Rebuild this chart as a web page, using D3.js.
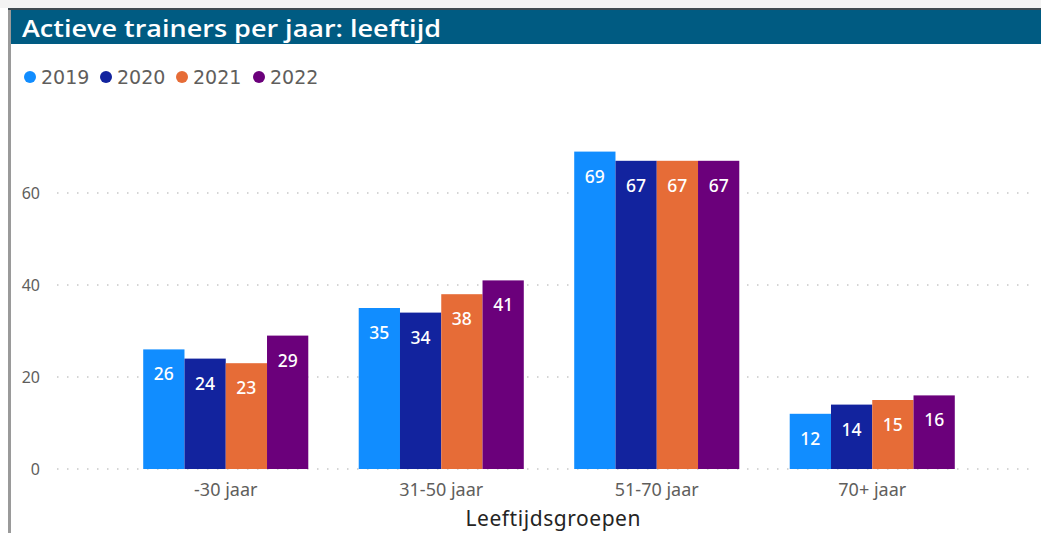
<!DOCTYPE html>
<html>
<head>
<meta charset="utf-8">
<script src="https://cdn.jsdelivr.net/npm/d3@7"></script>
<style>
  body { margin: 0; background: #fff; }
  svg { display: block; }
</style>
</head>
<body>
<div id="chart"></div>
<script>
var groups = ["-30 jaar", "31-50 jaar", "51-70 jaar", "70+ jaar"];
var years = ["2019", "2020", "2021", "2022"];
var colors = ["#118DFF", "#12239E", "#E66C37", "#6B007B"];
var v2019 = [26, 35, 69, 12];
var v2020 = [24, 34, 67, 14];
var v2021 = [23, 38, 67, 15];
var v2022 = [29, 41, 67, 16];
var yTicks = [0, 20, 40, 60];

var series = [v2019, v2020, v2021, v2022];

var width = 1041;
var height = 533;

var svg = d3.select("#chart").
append("svg").
attr("width", width).
attr("height", height);

// frame
svg.append("rect").attr("x", 0).attr("y", 0).attr("width", width).attr("height", 8).attr("fill", "#f3f3f3");
svg.append("rect").attr("x", 8).attr("y", 8).attr("width", 3).attr("height", height - 8).attr("fill", "#9a9a9a");
svg.append("rect").attr("x", 8).attr("y", 8).attr("width", width - 8).attr("height", 2).attr("fill", "#404a50");
svg.append("rect").attr("x", 11).attr("y", 10).attr("width", width - 11).attr("height", 34).attr("fill", "#005B82");

svg.append("text").
text("Actieve trainers per jaar: leeftijd").
attr("x", 22).
attr("y", 37).
attr("textLength", 419).
attr("lengthAdjust", "spacingAndGlyphs").
attr("fill", "#fff").
attr("font-family", "'Open Sans', sans-serif").
attr("font-weight", "600").
attr("font-size", 23);

// legend
var legend = svg.append("g").attr("font-family", "'DejaVu Sans', sans-serif").attr("font-size", 19).attr("fill", "#605e5c");
var legendX = [30, 106, 182, 259];
years.forEach(function (yr, i) {
  legend.append("circle").attr("cx", legendX[i]).attr("cy", 77).attr("r", 6).attr("fill", colors[i]);
  legend.append("text").text(yr).attr("x", legendX[i] + 11).attr("y", 84);
});

var x = d3.scaleBand().domain(groups).range([118, 980]).paddingInner(0.234).paddingOuter(0.117);
var xi = d3.scaleBand().domain(years).range([0, x.bandwidth()]);
var y = d3.scaleLinear().domain([0, 60]).range([469, 193]);

// gridlines
svg.append("g").selectAll("line").
data(yTicks).
enter().
append("line").
attr("x1", 57).
attr("x2", 1036).
attr("y1", function (d) { return y(d); }).
attr("y2", function (d) { return y(d); }).
attr("stroke", "#c8c8c8").
attr("stroke-width", 1.5).
attr("stroke-dasharray", "1.5,8.5");

var yAxis = d3.axisLeft(y).tickValues(yTicks).tickSize(0).tickPadding(0);
var gy = svg.append("g").attr("transform", "translate(40,0)").call(yAxis);
gy.select(".domain").remove();
gy.selectAll("text").attr("font-family", "'Noto Sans', sans-serif").attr("font-size", 16).attr("fill", "#605e5c").attr("dy", "0.35em");

var xAxis = d3.axisBottom(x).tickSize(0).tickPadding(0);
var gx = svg.append("g").attr("transform", "translate(0,483)").call(xAxis);
gx.select(".domain").remove();
gx.selectAll("text").attr("font-family", "'Noto Sans', sans-serif").attr("font-size", 18).attr("fill", "#605e5c");

svg.append("text").
text("Leeftijdsgroepen").
attr("x", 553).
attr("y", 526).
attr("text-anchor", "middle").
attr("textLength", 175).
attr("font-family", "'Noto Sans', sans-serif").
attr("font-size", 21).
attr("fill", "#252423");

// bars
var bars = svg.append("g");
groups.forEach(function (g, gi) {
  years.forEach(function (yr, si) {
    var val = series[si][gi];
    bars.append("rect").
    attr("x", x(g) + xi(yr)).
    attr("y", y(val)).
    attr("width", xi.bandwidth()).
    attr("height", y(0) - y(val)).
    attr("fill", colors[si]);
    bars.append("text").
    text(val).
    attr("x", x(g) + xi(yr) + xi.bandwidth() / 2).
    attr("y", y(val) + 31).
    attr("text-anchor", "middle").
    attr("font-family", "'Noto Sans', sans-serif").
    attr("font-weight", "500").
    attr("font-size", 17.5).
    attr("fill", "#fff");
  });
});
</script>
</body>
</html>
